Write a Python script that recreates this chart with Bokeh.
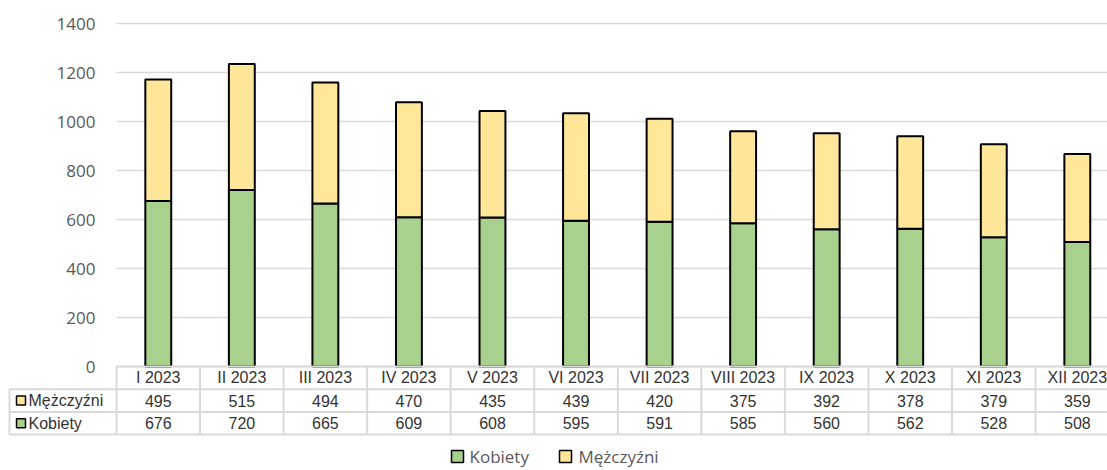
from bokeh.plotting import figure
from bokeh.models import Range1d, FixedTicker, ColumnDataSource
from bokeh.core.properties import value
from bokeh.embed import file_html
from bokeh.resources import INLINE

# ---------------- data ----------------
months = ["I 2023", "II 2023", "III 2023", "IV 2023", "V 2023", "VI 2023",
          "VII 2023", "VIII 2023", "IX 2023", "X 2023", "XI 2023", "XII 2023"]
kobiety = [676, 720, 665, 609, 608, 595, 591, 585, 560, 562, 528, 508]
mezczyzni = [495, 515, 494, 470, 435, 439, 420, 375, 392, 378, 379, 359]
y_ticks = [0, 200, 400, 600, 800, 1000, 1200, 1400]
series_labels = ["Kobiety", "Mężczyźni"]
series_colors = ["#A9D18E", "#FFE699"]

# ---------------- layout constants (pixels) ----------------
W, H = 1107, 470
LEFT = 116            # px from figure left where the category area starts
TOP = 23              # px from figure top to the 1400 line
CELL_PX = 83.55       # px per category
PLOT_PX = 343         # px for 0..1400
ROW_PX = 22.7         # table row height
UNIT = PLOT_PX / 1400.0

x_start = -0.5 - LEFT / CELL_PX
x_end = -0.5 + (W - LEFT) / CELL_PX
y_top = 1400 + TOP / UNIT
y_bot = 1400 - (H - TOP) / UNIT


def xp(px):            # figure px from left -> data x
    return x_start + px / CELL_PX


def yb(px):            # px below the zero line -> data y
    return -px / UNIT


GRID = "#d9d9d9"
TXT = "#333333"
AX = "#595959"
TFONT = "Liberation Sans"
AFONT = "Open Sans"

xs = list(range(len(months)))
bounds = [i - 0.5 for i in range(len(months) + 1)]

src = ColumnDataSource(dict(x=xs, Kobiety=kobiety, Mezczyzni=mezczyzni,
                            months=months,
                            k_txt=[str(v) for v in kobiety],
                            m_txt=[str(v) for v in mezczyzni]))

p = figure(width=W, height=H, output_backend="svg", toolbar_location=None,
           x_range=Range1d(x_start, x_end), y_range=Range1d(y_bot, y_top),
           min_border_left=0, min_border_right=0, min_border_top=0,
           min_border_bottom=0)
p.outline_line_color = None
p.background_fill_color = "white"
p.border_fill_color = "white"
p.xaxis.visible = False
p.xgrid.visible = False
p.ygrid.visible = False

# horizontal gridlines (from the category area to the right edge)
p.segment(x0=[-0.5] * len(y_ticks), y0=y_ticks, x1=[x_end] * len(y_ticks),
          y1=y_ticks, line_color=GRID, line_width=1.5)

# y axis drawn at the left edge of the category area
yax = p.yaxis[0]
yax.fixed_location = -0.5
yax.ticker = FixedTicker(ticks=y_ticks)
yax.axis_line_color = None
yax.major_tick_line_color = None
yax.minor_tick_line_color = None
yax.major_tick_out = 0
yax.major_tick_in = 0
yax.major_label_standoff = 21
yax.major_label_text_font = AFONT
yax.major_label_text_font_size = "17px"
yax.major_label_text_color = AX

# stacked bars
p.vbar_stack(["Kobiety", "Mezczyzni"], x="x", width=0.31, source=src,
             fill_color=series_colors, line_color="black", line_width=2)

# ---------------- data table ----------------
r1, r2, r3 = yb(ROW_PX), yb(2 * ROW_PX), yb(3 * ROW_PX)
x_tab_left = xp(9.0)
# vertical lines: category boundaries across all three rows
p.segment(x0=bounds, y0=[0] * len(bounds), x1=bounds, y1=[r3] * len(bounds),
          line_color=GRID, line_width=2)
# left border of the series-name column (data rows only)
p.segment(x0=[x_tab_left], y0=[r1], x1=[x_tab_left], y1=[r3],
          line_color=GRID, line_width=2)
# horizontal lines
p.segment(x0=[-0.5], y0=[0], x1=[x_end], y1=[0], line_color=GRID, line_width=2)
p.segment(x0=[x_tab_left] * 3, y0=[r1, r2, r3], x1=[x_end] * 3, y1=[r1, r2, r3],
          line_color=GRID, line_width=2)

text_kw = dict(text_align="center", text_baseline="middle",
               text_font=value(TFONT), text_font_size="16px", text_color=TXT)
p.text(x="x", y=yb(0.5 * ROW_PX), text="months", source=src, **text_kw)
p.text(x="x", y=yb(1.5 * ROW_PX), text="m_txt", source=src, **text_kw)
p.text(x="x", y=yb(2.5 * ROW_PX), text="k_txt", source=src, **text_kw)

# series keys in the table
p.scatter(x=[xp(20.5)] * 2, y=[yb(1.5 * ROW_PX), yb(2.5 * ROW_PX)],
          marker="square", size=9,
          fill_color=[series_colors[1], series_colors[0]],
          line_color="black", line_width=1.5)
p.text(x=[xp(28.0)] * 2, y=[yb(1.5 * ROW_PX), yb(2.5 * ROW_PX)],
       text=[series_labels[1], series_labels[0]], text_align="left",
       text_baseline="middle", text_font=value(TFONT), text_font_size="16px",
       text_color=TXT)

# ---------------- bottom legend ----------------
leg_y = yb(90)
p.scatter(x=[xp(457), xp(565)], y=[leg_y, leg_y], marker="square", size=12,
          fill_color=series_colors, line_color="black", line_width=1.5)
p.text(x=[xp(469), xp(578)], y=[leg_y, leg_y], text=series_labels,
       text_align="left", text_baseline="middle", text_font=value(AFONT),
       text_font_size="17px", text_color=AX)

open("out.html", "w").write(file_html(p, INLINE))
